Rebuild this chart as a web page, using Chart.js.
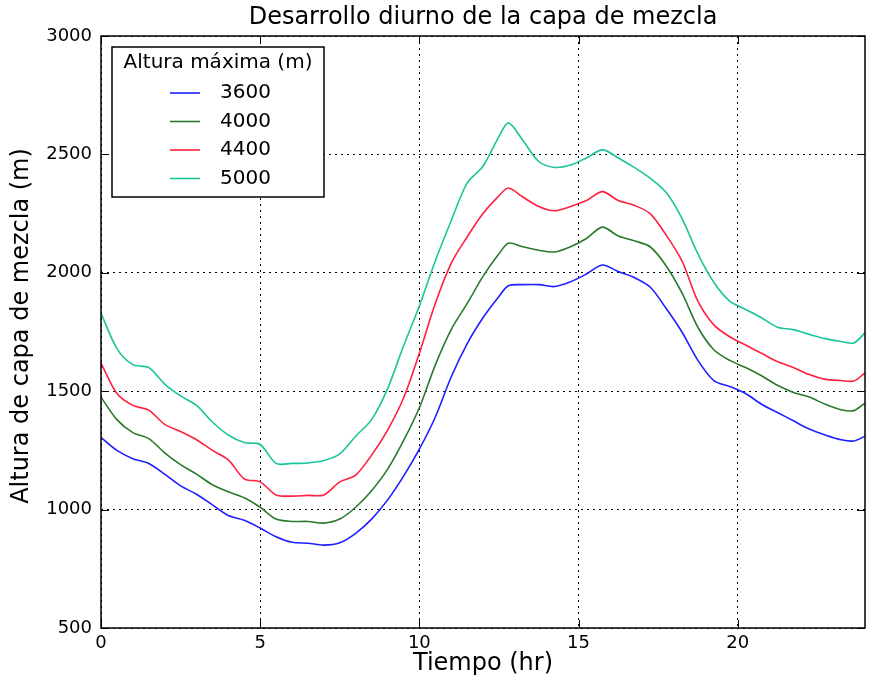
<!DOCTYPE html>
<html lang="es">
<head>
<meta charset="UTF-8">
<title>Desarrollo diurno de la capa de mezcla</title>
<script src="https://cdn.jsdelivr.net/npm/chart.js"></script>
<style>
  html, body { margin: 0; padding: 0; background: #fff; }
  #wrap { width: 870px; height: 688px; position: relative; }
</style>
</head>
<body>
<div id="wrap"><canvas id="mixChart"></canvas></div>
<script>
const hours = [0,0.5,1,1.5,2,2.5,3,3.5,4,4.5,5,5.5,6,6.5,7,7.5,8,8.5,9,9.5,10,10.5,11,11.5,12,12.5,12.8,13.25,13.75,14.25,14.75,15.25,15.75,16.25,16.75,17.25,17.75,18.25,18.75,19.25,19.75,20.25,20.75,21.25,21.75,22.25,22.75,23.25,23.65,24];

const h3600 = [1305,1250,1215,1195,1150,1100,1065,1020,975,955,922,885,862,858,850,860,900,960,1040,1140,1255,1390,1560,1700,1810,1900,1945,1950,1950,1942,1962,1995,2033,2005,1980,1940,1850,1750,1630,1545,1520,1490,1445,1410,1375,1340,1315,1295,1290,1310];
const h4000 = [1475,1380,1325,1300,1240,1190,1150,1105,1075,1050,1010,960,950,950,943,960,1010,1080,1170,1290,1430,1610,1760,1870,1985,2080,2125,2110,2095,2088,2110,2145,2193,2155,2135,2110,2030,1915,1770,1675,1630,1600,1565,1525,1495,1475,1445,1422,1418,1450];
const h4400 = [1619,1490,1440,1420,1360,1330,1295,1250,1210,1130,1117,1062,1057,1060,1062,1117,1146,1230,1335,1470,1660,1870,2040,2151,2250,2325,2358,2320,2280,2262,2280,2305,2343,2305,2285,2250,2160,2050,1880,1780,1730,1695,1660,1625,1600,1570,1550,1545,1543,1577];
const h5000 = [1830,1680,1612,1600,1530,1480,1440,1370,1315,1283,1275,1195,1195,1197,1207,1235,1310,1380,1510,1690,1860,2050,2220,2379,2450,2575,2633,2560,2470,2445,2455,2485,2519,2485,2445,2400,2340,2230,2080,1960,1880,1845,1810,1770,1760,1740,1722,1710,1704,1746];

const seriesLabels = ["3600", "4000", "4400", "5000"];
const seriesColors = ["#1f1fff", "#2a7a2a", "#ff2040", "#1cc49c"];
const xTicks = [0, 5, 10, 15, 20];
const yTicks = [500, 1000, 1500, 2000, 2500, 3000];

const FONT = "'DejaVu Sans', Verdana, sans-serif";

function toPoints(values) {
  return hours.map((h, i) => ({ x: h, y: values[i] }));
}

const allSeries = [h3600, h4000, h4400, h5000];
const datasets = allSeries.map((vals, i) => ({
  label: seriesLabels[i],
  data: toPoints(vals),
  borderColor: seriesColors[i],
  backgroundColor: seriesColors[i],
  borderWidth: 1.6,
  pointRadius: 0,
  tension: 0.3,
  fill: false
}));

// frame, inward ticks, title, axis labels and the boxed legend
const decorations = {
  id: "decorations",
  afterDatasetsDraw(chart) {
    const { ctx, chartArea: a, scales } = chart;
    ctx.save();
    ctx.strokeStyle = "#000";
    ctx.lineWidth = 1;
    const tick = 8;
    xTicks.forEach(v => {
      const px = Math.round(scales.x.getPixelForValue(v)) + 0.5;
      ctx.beginPath();
      ctx.moveTo(px, a.bottom); ctx.lineTo(px, a.bottom - tick);
      ctx.moveTo(px, a.top); ctx.lineTo(px, a.top + tick);
      ctx.stroke();
    });
    yTicks.forEach(v => {
      const py = Math.round(scales.y.getPixelForValue(v)) + 0.5;
      ctx.beginPath();
      ctx.moveTo(a.left, py); ctx.lineTo(a.left + tick, py);
      ctx.moveTo(a.right, py); ctx.lineTo(a.right - tick, py);
      ctx.stroke();
    });
    ctx.lineWidth = 1.5;
    ctx.strokeRect(a.left, a.top, a.right - a.left, a.bottom - a.top);

    // title
    ctx.fillStyle = "#000";
    ctx.font = "24px " + FONT;
    ctx.textAlign = "center";
    ctx.textBaseline = "middle";
    ctx.fillText("Desarrollo diurno de la capa de mezcla", (a.left + a.right) / 2, 18);

    // axis titles
    ctx.fillText("Tiempo (hr)", (a.left + a.right) / 2, 664);
    ctx.save();
    ctx.translate(22, 326);
    ctx.rotate(-Math.PI / 2);
    ctx.fillText("Altura de capa de mezcla (m)", 0, 0);
    ctx.restore();

    // legend
    const lx = 112, ly = 47, lw = 212, lh = 150;
    ctx.fillStyle = "#fff";
    ctx.fillRect(lx, ly, lw, lh);
    ctx.lineWidth = 1.5;
    ctx.strokeStyle = "#000";
    ctx.strokeRect(lx, ly, lw, lh);
    ctx.fillStyle = "#000";
    ctx.font = "20px " + FONT;
    ctx.textAlign = "center";
    ctx.fillText("Altura máxima (m)", lx + lw / 2, 63);
    ctx.textAlign = "left";
    chart.data.datasets.forEach((ds, i) => {
      const y = 93 + i * 28.5;
      ctx.strokeStyle = ds.borderColor;
      ctx.lineWidth = 1.6;
      ctx.beginPath();
      ctx.moveTo(170, y); ctx.lineTo(200, y);
      ctx.stroke();
      ctx.fillText(ds.label, 220, y);
    });
    ctx.restore();
  }
};

new Chart(document.getElementById("mixChart"), {
  type: "line",
  data: { datasets },
  plugins: [decorations],
  options: {
    responsive: true,
    maintainAspectRatio: false,
    animation: false,
    layout: { padding: { top: 36, right: 5, left: 0, bottom: 0 } },
    plugins: {
      legend: { display: false },
      tooltip: { enabled: false },
      title: { display: false }
    },
    scales: {
      x: {
        type: "linear",
        min: 0,
        max: 24,
        afterBuildTicks: s => { s.ticks = xTicks.map(v => ({ value: v })); },
        afterFit: s => { s.height = 60; },
        grid: { color: "#000", lineWidth: 1, drawTicks: false },
        border: { display: false, dash: [2, 4] },
        ticks: { color: "#000", font: { family: FONT, size: 18 }, padding: 5, maxRotation: 0, callback: v => String(v) }
      },
      y: {
        min: 500,
        max: 3000,
        afterBuildTicks: s => { s.ticks = yTicks.map(v => ({ value: v })); },
        afterFit: s => { s.width = 101; },
        grid: { color: "#000", lineWidth: 1, drawTicks: false },
        border: { display: false, dash: [2, 4] },
        ticks: { color: "#000", font: { family: FONT, size: 18 }, padding: 9, callback: v => String(v) }
      }
    }
  }
});
</script>
</body>
</html>
